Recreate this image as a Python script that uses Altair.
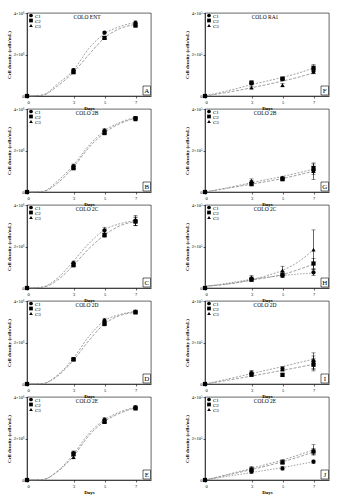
import altair as alt
import pandas as pd

days = [0, 3, 5, 7]
curve_days = [0, 1, 2, 3, 4, 5, 6, 7]
series = ["C1", "C2", "C3"]
shapes = ["circle", "square", "triangle-up"]

letters = ["A", "B", "C", "D", "E", "F", "G", "H", "I", "J"]
titles = ["COLO ENT", "COLO 2B", "COLO 2C", "COLO 2D", "COLO 2E",
          "COLO RA1", "COLO 2B", "COLO 2C", "COLO 2D", "COLO 2E"]
exponent = ["6"] * 5 + ["5"] * 5
y_ticks = [0, 1, 2, 3, 4]
x_ticks = [0, 3, 5, 7]

# Mean cell density per series (x10^6 for A-E, x10^5 for F-J)
vals = {
    "A": {"C1": [0, 1.25, 3.05, 3.52], "C2": [0, 1.15, 2.80, 3.40], "C3": [0, 1.20, 2.82, 3.45]},
    "B": {"C1": [0, 1.25, 2.95, 3.55], "C2": [0, 1.15, 2.85, 3.55], "C3": [0, 1.20, 2.90, 3.50]},
    "C": {"C1": [0, 1.20, 2.78, 3.25], "C2": [0, 1.10, 2.55, 3.20], "C3": [0, 1.15, 2.60, 3.22]},
    "D": {"C1": [0, 1.20, 3.05, 3.48], "C2": [0, 1.18, 2.90, 3.45], "C3": [0, 1.20, 2.95, 3.50]},
    "E": {"C1": [0, 1.30, 2.90, 3.50], "C2": [0, 1.25, 2.80, 3.45], "C3": [0, 1.10, 2.85, 3.50]},
    "F": {"C1": [0, 0.60, 0.81, 1.21], "C2": [0, 0.65, 0.84, 1.36], "C3": [0, 0.40, 0.52, 1.17]},
    "G": {"C1": [0, 0.45, 0.65, 1.05], "C2": [0, 0.38, 0.62, 1.15], "C3": [0, 0.55, 0.70, 1.00]},
    "H": {"C1": [0, 0.45, 0.60, 0.75], "C2": [0, 0.40, 0.65, 1.18], "C3": [0, 0.50, 0.85, 1.85]},
    "I": {"C1": [0, 0.52, 0.73, 1.10], "C2": [0, 0.45, 0.44, 0.93], "C3": [0, 0.55, 0.72, 1.05]},
    "J": {"C1": [0, 0.40, 0.56, 0.88], "C2": [0, 0.50, 0.85, 1.37], "C3": [0, 0.56, 0.88, 1.45]},
}
# Standard deviations
errs = {
    "A": {"C1": [0, 0.08, 0.06, 0.10], "C2": [0, 0.08, 0.06, 0.08], "C3": [0, 0.06, 0.05, 0.08]},
    "B": {"C1": [0, 0.10, 0.12, 0.08], "C2": [0, 0.08, 0.10, 0.06], "C3": [0, 0.08, 0.08, 0.06]},
    "C": {"C1": [0, 0.10, 0.15, 0.25], "C2": [0, 0.08, 0.10, 0.20], "C3": [0, 0.08, 0.10, 0.20]},
    "D": {"C1": [0, 0.06, 0.12, 0.08], "C2": [0, 0.06, 0.10, 0.06], "C3": [0, 0.06, 0.08, 0.06]},
    "E": {"C1": [0, 0.10, 0.10, 0.08], "C2": [0, 0.10, 0.08, 0.06], "C3": [0, 0.08, 0.08, 0.06]},
    "F": {"C1": [0, 0.06, 0.08, 0.12], "C2": [0, 0.06, 0.06, 0.15], "C3": [0, 0.05, 0.08, 0.10]},
    "G": {"C1": [0, 0.10, 0.08, 0.20], "C2": [0, 0.08, 0.08, 0.20], "C3": [0, 0.08, 0.06, 0.40]},
    "H": {"C1": [0, 0.08, 0.10, 0.15], "C2": [0, 0.08, 0.15, 0.25], "C3": [0, 0.10, 0.20, 0.95]},
    "I": {"C1": [0, 0.10, 0.10, 0.40], "C2": [0, 0.08, 0.08, 0.30], "C3": [0, 0.10, 0.10, 0.30]},
    "J": {"C1": [0, 0.08, 0.08, 0.08], "C2": [0, 0.10, 0.08, 0.15], "C3": [0, 0.08, 0.10, 0.25]},
}
# Fitted growth curves read at curve_days
fits = {
    "A": [[0, 0.05, 0.60, 1.25, 2.30, 3.00, 3.35, 3.55], [0, 0.04, 0.50, 1.15, 2.00, 2.80, 3.25, 3.45]],
    "B": [[0, 0.03, 0.55, 1.30, 2.25, 2.95, 3.35, 3.60], [0, 0.02, 0.45, 1.20, 2.15, 2.85, 3.30, 3.55]],
    "C": [[0, 0.05, 0.50, 1.30, 2.15, 2.80, 3.10, 3.25], [0, 0.03, 0.40, 1.10, 1.90, 2.55, 3.00, 3.20]],
    "D": [[0, 0.02, 0.45, 1.25, 2.30, 3.05, 3.35, 3.50], [0, 0.02, 0.40, 1.15, 2.10, 2.90, 3.30, 3.45]],
    "E": [[0, 0.02, 0.45, 1.25, 2.25, 2.90, 3.28, 3.50], [0, 0.02, 0.42, 1.15, 2.15, 2.82, 3.22, 3.48]],
    "F": [[0.02, 0.17, 0.35, 0.55, 0.72, 0.90, 1.10, 1.35], [0, 0.12, 0.25, 0.40, 0.55, 0.72, 0.90, 1.12]],
    "G": [[0, 0.14, 0.29, 0.45, 0.60, 0.75, 0.92, 1.10], [0, 0.12, 0.25, 0.38, 0.51, 0.65, 0.82, 1.00]],
    "H": [[0.08, 0.15, 0.25, 0.40, 0.60, 0.85, 1.25, 1.85], [0.08, 0.15, 0.25, 0.38, 0.50, 0.65, 0.88, 1.15],
          [0.08, 0.18, 0.30, 0.42, 0.52, 0.60, 0.67, 0.72]],
    "I": [[0, 0.16, 0.33, 0.50, 0.67, 0.84, 1.02, 1.20], [0, 0.12, 0.25, 0.38, 0.52, 0.66, 0.80, 0.95]],
    "J": [[0, 0.18, 0.37, 0.56, 0.76, 0.96, 1.20, 1.45], [0, 0.16, 0.33, 0.50, 0.68, 0.88, 1.10, 1.35],
          [0, 0.12, 0.24, 0.36, 0.48, 0.60, 0.74, 0.88]],
}

W, H = 124, 83
FONT = "Liberation Serif"
dashes = [[2, 1.5], [3, 1.5], [1.5, 1.5]]


def panel(i):
    key = letters[i]
    exp = exponent[i]
    rows = []
    for s in series:
        for d, v, e in zip(days, vals[key][s], errs[key][s]):
            rows.append({"day": d, "val": v, "lo": v - e, "hi": v + e, "series": s})
    df = pd.DataFrame(rows)

    xs = alt.Scale(domain=[0, 8], nice=False)
    ys = alt.Scale(domain=[0, 4], nice=False)
    x_axis = alt.Axis(values=x_ticks, title="Days", format="d")
    sup = "⁶" if exp == "6" else "⁵"
    y_axis = alt.Axis(values=y_ticks, title="Cell density (cells/mL)",
                      labelExpr=f"datum.value == 0 ? '0' : datum.value + '×10{sup}'")

    layers = []
    for k, curve in enumerate(fits[key]):
        cdf = pd.DataFrame({"day": curve_days, "val": curve})
        layers.append(
            alt.Chart(cdf).mark_line(color="#888888", strokeWidth=0.8, strokeDash=dashes[k % 3],
                                     interpolate="monotone")
            .encode(x=alt.X("day:Q", scale=xs, axis=x_axis), y=alt.Y("val:Q", scale=ys, axis=y_axis))
        )
    base = alt.Chart(df)
    layers.append(base.mark_rule(color="black", strokeWidth=0.6).encode(
        x="day:Q", y="lo:Q", y2="hi:Q"))
    layers.append(base.mark_tick(color="black", thickness=0.6, size=4, orient="horizontal").encode(
        x="day:Q", y="lo:Q"))
    layers.append(base.mark_tick(color="black", thickness=0.6, size=4, orient="horizontal").encode(
        x="day:Q", y="hi:Q"))
    layers.append(base.mark_point(filled=True, color="black", opacity=1, size=18).encode(
        x="day:Q", y="val:Q",
        shape=alt.Shape("series:N", scale=alt.Scale(domain=series, range=shapes), legend=None)))

    for j, (s, sh) in enumerate(zip(series, shapes)):
        ldf = pd.DataFrame({"label": [s]})
        layers.append(alt.Chart(ldf).mark_point(filled=True, color="black", opacity=1, size=14, shape=sh)
                      .encode(x=alt.value(4), y=alt.value(2.5 + 5 * j)))
        layers.append(alt.Chart(ldf).mark_text(font=FONT, fontSize=5, align="left", baseline="middle")
                      .encode(x=alt.value(8), y=alt.value(2.5 + 5 * j), text="label:N"))

    tdf = pd.DataFrame({"t": [titles[i]]})
    layers.append(alt.Chart(tdf).mark_text(font=FONT, fontSize=5.5, align="center", baseline="middle")
                  .encode(x=alt.value(60), y=alt.value(4), text="t:N"))
    bdf = pd.DataFrame({"t": [key]})
    layers.append(alt.Chart(bdf).mark_rect(fill="white", stroke="black", strokeWidth=0.6)
                  .encode(x=alt.value(W - 8), x2=alt.value(W - 0.5), y=alt.value(H - 10), y2=alt.value(H - 1)))
    layers.append(alt.Chart(bdf).mark_text(font=FONT, fontSize=7, align="center", baseline="middle")
                  .encode(x=alt.value(W - 4.2), y=alt.value(H - 5.3), text="t:N"))

    return alt.layer(*layers).properties(width=W, height=H)


order = []
for r in range(5):
    order += [panel(r), panel(r + 5)]

chart = alt.concat(*order, columns=2, spacing=alt.RowColnumber(row=13, column=54), bounds="flush").properties(
    padding={"left": 5, "top": 9, "right": 5, "bottom": 5}, background="white"
).configure_view(stroke="black", strokeWidth=0.6).configure_axis(
    labelFont=FONT, titleFont=FONT, labelFontSize=4.5, titleFontSize=5, titleFontWeight="bold",
    labelColor="black", titleColor="black", domainColor="black", tickColor="black",
    tickSize=2, labelPadding=1, titlePadding=2, grid=False, domainWidth=0.6, tickWidth=0.6
)

chart.save("out.html", embed_options={"renderer": "svg", "actions": False})
